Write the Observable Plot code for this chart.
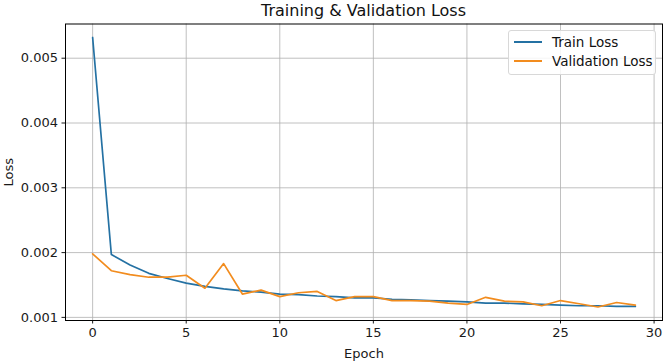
<!DOCTYPE html>
<html>
<head>
<meta charset="utf-8">
<script src="https://cdn.jsdelivr.net/npm/d3@7"></script>
<script src="https://cdn.jsdelivr.net/npm/@observablehq/plot@0.6"></script>
<style>
  body { margin: 0; background: #fff; font-family: "DejaVu Sans", sans-serif; }
  #wrap { position: relative; width: 670px; height: 362px; }
  #title { height: 23px; line-height: 21px; font-size: 16px; color: #111; padding-left: 65px; padding-right: 8px; text-align: center; box-sizing: border-box; width: 670px; }
  #legend { position: absolute; left: 508px; top: 30px; width: 148px; height: 45px; border: 1px solid #d8d8d8; border-radius: 3px; background: rgba(255,255,255,0.85); box-sizing: border-box; font-size: 13.5px; color: #111; }
  .item { position: absolute; left: 5px; height: 18px; line-height: 18px; white-space: nowrap; }
  .sw { display: inline-block; width: 28px; height: 0; border-top: 2px solid; vertical-align: middle; margin-right: 10px; position: relative; top: -1px; }
</style>
</head>
<body>
<div id="wrap">
  <div id="title">Training &amp; Validation Loss</div>
  <div id="chart"></div>
  <div id="legend">
    <div class="item" style="top:2px"><span class="sw" style="border-color:#2471a3"></span>Train Loss</div>
    <div class="item" style="top:21px"><span class="sw" style="border-color:#f28c1e"></span>Validation Loss</div>
  </div>
</div>
<script>
const epochs = d3.range(0, 30);
const trainLoss = [0.00532, 0.00197, 0.00181, 0.00168, 0.00160, 0.00153, 0.00148, 0.00144, 0.00141, 0.00139,
                   0.00136, 0.00135, 0.00133, 0.00132, 0.00130, 0.00130, 0.00128, 0.00127, 0.00126, 0.00125,
                   0.00124, 0.00122, 0.00122, 0.00121, 0.00120, 0.00119, 0.00118, 0.00118, 0.00117, 0.00117];
const valLoss = [0.00198, 0.00172, 0.00166, 0.00162, 0.00162, 0.00165, 0.00145, 0.00183, 0.00136, 0.00142,
                 0.00132, 0.00138, 0.00140, 0.00126, 0.00132, 0.00132, 0.00126, 0.00126, 0.00125, 0.00122,
                 0.00120, 0.00131, 0.00125, 0.00124, 0.00118, 0.00126, 0.00121, 0.00116, 0.00123, 0.00119];
const xTicks = [0, 5, 10, 15, 20, 25, 30];
const yTicks = [0.001, 0.002, 0.003, 0.004, 0.005];
const seriesNames = ["Train Loss", "Validation Loss"];
const seriesColors = ["#2471a3", "#f28c1e"];

const data = [
  ...epochs.map((e, i) => ({epoch: e, loss: trainLoss[i], series: seriesNames[0]})),
  ...epochs.map((e, i) => ({epoch: e, loss: valLoss[i], series: seriesNames[1]}))
];

const chart = Plot.plot({
  width: 670,
  height: 339,
  marginLeft: 65,
  marginRight: 8,
  marginTop: 0.5,
  marginBottom: 42,
  style: { fontFamily: "DejaVu Sans, sans-serif", fontSize: "13px", color: "#1a1a1a", background: "white" },
  x: { domain: [-1.45, 30.45], ticks: xTicks, tickSize: 3.5, tickPadding: 4, label: "Epoch", labelAnchor: "center", labelArrow: "none", labelOffset: 37 },
  y: { domain: [0.000952, 0.005528], ticks: yTicks, tickFormat: d3.format(".3f"), tickSize: 3.5, tickPadding: 4, label: "Loss", labelAnchor: "center", labelArrow: "none", labelOffset: 62 },
  color: { domain: seriesNames, range: seriesColors },
  marks: [
    Plot.gridX(xTicks, { stroke: "#b0b0b0", strokeOpacity: 1, strokeWidth: 0.8 }),
    Plot.gridY(yTicks, { stroke: "#b0b0b0", strokeOpacity: 1, strokeWidth: 0.8 }),
    Plot.line(data, { x: "epoch", y: "loss", stroke: "series", strokeWidth: 1.7, z: "series" }),
    Plot.frame({ stroke: "#000", strokeWidth: 1 })
  ]
});
document.getElementById("chart").appendChild(chart);
</script>
</body>
</html>
